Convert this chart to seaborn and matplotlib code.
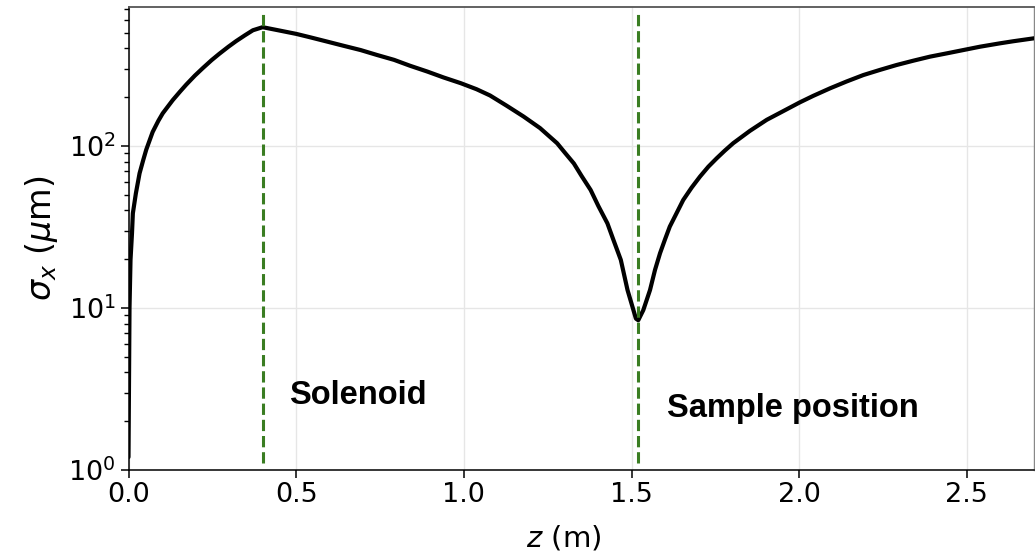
import numpy as np
import pandas as pd
import matplotlib
matplotlib.use("Agg")
import matplotlib.pyplot as plt
import seaborn as sns
from matplotlib.ticker import LogLocator, NullFormatter

# Beam size along the beamline (z in m, sigma_x in micrometres)
z_m = [0.0, 0.003, 0.006, 0.0104, 0.013, 0.022, 0.033, 0.044, 0.053, 0.072,
       0.089, 0.102, 0.132, 0.154, 0.172, 0.198, 0.222, 0.248, 0.271, 0.298,
       0.321, 0.347, 0.371, 0.4, 0.442, 0.5, 0.541, 0.592, 0.64, 0.692,
       0.74, 0.792, 0.839, 0.891, 0.939, 0.991, 1.038, 1.078, 1.128, 1.178,
       1.227, 1.278, 1.301, 1.328, 1.351, 1.378, 1.401, 1.428, 1.446, 1.468,
       1.488, 1.505, 1.513, 1.52, 1.535, 1.555, 1.57, 1.585, 1.6, 1.614,
       1.634, 1.654, 1.679, 1.704, 1.729, 1.754, 1.778, 1.803, 1.853, 1.903,
       1.952, 2.002, 2.042, 2.092, 2.141, 2.191, 2.241, 2.29, 2.34, 2.39,
       2.44, 2.5, 2.539, 2.598, 2.638, 2.7]
sigma_x_um = [1.2, 10, 19.8, 28.9, 38.4, 51, 67.8, 82, 95, 122,
              143, 159, 192, 217, 239, 272, 303, 339, 371, 410,
              444, 482, 518, 541, 520, 492, 469, 441, 416, 391,
              365, 340, 313, 288, 265, 244, 224, 205, 177, 152,
              129, 104, 91, 78, 65.3, 53.5, 42.6, 33.3, 26.3, 19.8,
              12.9, 9.8, 8.6, 8.4, 9.7, 12.9, 17.2, 21.8, 26.6, 31.8,
              38.4, 46.4, 55.3, 64.7, 74.5, 84, 93.6, 104, 124, 145,
              164, 186, 204, 227, 250, 274, 295, 316, 336, 356,
              373, 395, 410, 430, 443, 462]

# Element positions along the line
element_z = [0.4, 1.52]
element_names = ["Solenoid", "Sample position"]

df = pd.DataFrame({"z": z_m, "sigma": sigma_x_um})

sns.set_theme(style="ticks")
plt.rcParams["font.family"] = ["DejaVu Sans"]
plt.rcParams["mathtext.fontset"] = "dejavusans"
plt.rcParams["text.color"] = "black"

fig = plt.figure(figsize=(10.35, 5.55), dpi=100)
ax = fig.add_axes([128.5 / 1035, (555 - 470) / 555, (1034 - 128.5) / 1035, (470 - 6.5) / 555])

ax.set_yscale("log")
ax.grid(True, which="major", color="#e6e6e6", lw=1.0, zorder=0)

sns.lineplot(data=df, x="z", y="sigma", color="black", lw=3.0, ax=ax,
             zorder=3, sort=False)

ax.vlines(element_z, 1.1, 672, colors="#3a7d22", linestyles="--", lw=2.2, zorder=4)

ax.text(0.48, 2.57, element_names[0], fontsize=23.5, fontweight="bold",
        family="Liberation Sans", color="black", ha="left", va="baseline")
ax.text(1.605, 2.13, element_names[1], fontsize=23.5, fontweight="bold",
        family="Liberation Sans", color="black", ha="left", va="baseline")

ax.set_xlim(0, 2.7)
ax.set_ylim(1, 726)
ax.set_xticks([0.0, 0.5, 1.0, 1.5, 2.0, 2.5])
ax.set_xticklabels(["0.0", "0.5", "1.0", "1.5", "2.0", "2.5"])
ax.yaxis.set_major_locator(LogLocator(base=10, numticks=10))
ax.yaxis.set_minor_locator(LogLocator(base=10, subs=np.arange(2, 10), numticks=10))
ax.yaxis.set_minor_formatter(NullFormatter())

ax.tick_params(axis="both", which="major", labelsize=19.5, length=5.5, width=1.1,
               color="black", labelcolor="black", direction="out")
ax.tick_params(axis="y", which="minor", length=3.6, width=1.0, color="black")

ax.set_xlabel(r"$z$ (m)", fontsize=21, color="black")
ax.xaxis.set_label_coords(0.481, -0.1165)
ax.set_ylabel(r"$\sigma_x$ ($\mu$m)", fontsize=24, color="black", labelpad=6)

for side in ["left", "bottom"]:
    ax.spines[side].set_color("black")
    ax.spines[side].set_linewidth(1.1)
ax.spines["top"].set_color("#555555")
ax.spines["top"].set_linewidth(1.3)
ax.spines["right"].set_color("#888888")
ax.spines["right"].set_linewidth(1.0)

fig.savefig("out.png", dpi=100)
